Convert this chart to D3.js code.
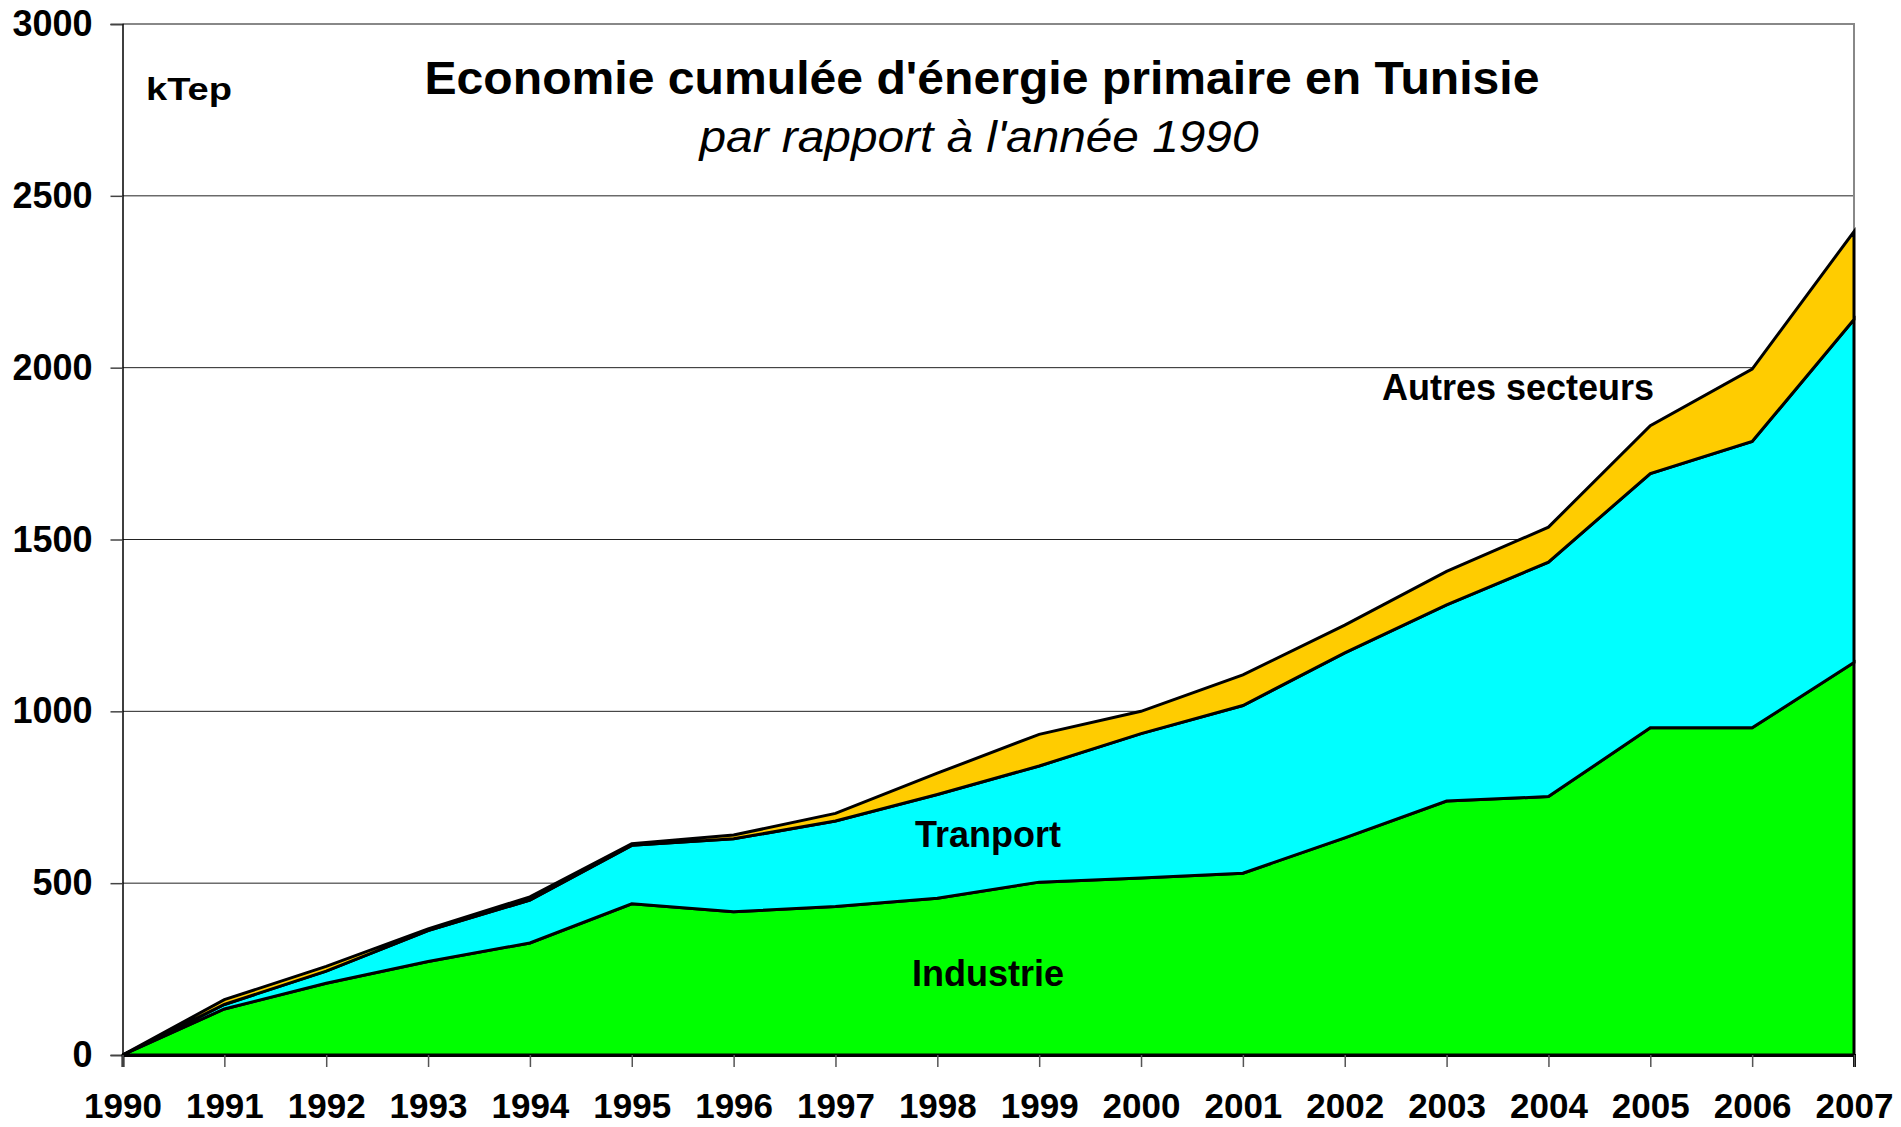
<!DOCTYPE html>
<html lang="fr">
<head>
  <meta charset="UTF-8">
  <title>Economie cumulée d'énergie primaire en Tunisie</title>
  <script src="https://d3js.org/d3.v7.min.js"></script>
  <style>
    body { margin: 0; background: #fff; font-family: "Liberation Sans", Arial, sans-serif; }
    svg { display: block; }
  </style>
</head>
<body>
  <svg id="chart" width="1901" height="1127"></svg>

<script>
  // Values (kTep, cumulated savings vs 1990)
  const years = [1990, 1991, 1992, 1993, 1994, 1995, 1996, 1997, 1998, 1999,
                 2000, 2001, 2002, 2003, 2004, 2005, 2006, 2007];
  const industrie = [0, 134, 209, 272, 326, 440, 417, 432, 456, 503,
                     515, 529, 632, 739, 752, 952, 952, 1142];
  const transport = [0, 13, 35, 90, 125, 170, 212, 249, 302, 338,
                     420, 488, 538, 571, 682, 740, 833, 998];
  const autres = [0, 14, 14, 5, 9, 5, 11, 22, 62, 92,
                  65, 89, 81, 97, 102, 139, 211, 256];
  const yTicks = [0, 500, 1000, 1500, 2000, 2500, 3000];
  const seriesKeys = ["industrie", "transport", "autres"];
  const seriesColors = ["#00ff00", "#00ffff", "#ffcc00"];

  const table = years.map((y, i) => ({
    year: y, industrie: industrie[i], transport: transport[i], autres: autres[i]
  }));

  const svg = d3.select("#chart");
  const margin = { top: 24, right: 47, bottom: 72, left: 122.5 };
  const width = +svg.attr("width");
  const height = +svg.attr("height");

  const x = d3.scaleLinear()
    .domain(d3.extent(years))
    .range([margin.left, width - margin.right]);

  const y = d3.scaleLinear()
    .domain([0, 3000])
    .range([height - margin.bottom, margin.top]);

  // gridlines (500..2500)
  svg.append("g")
    .selectAll("line")
    .data(yTicks.filter(d => d > 0 && d < 3000))
    .join("line")
    .attr("x1", margin.left)
    .attr("x2", width - margin.right)
    .attr("y1", d => y(d))
    .attr("y2", d => y(d))
    .attr("stroke", "#222")
    .attr("stroke-width", 1);

  // plot border top / right (gray)
  svg.append("path")
    .attr("d", `M${margin.left},${y(3000)}H${width - margin.right}V${y(0)}`)
    .attr("fill", "none")
    .attr("stroke", "#888")
    .attr("stroke-width", 2);

  // stacked areas
  const stack = d3.stack().keys(seriesKeys);
  const layers = stack(table);

  const area = d3.area()
    .x(d => x(d.data.year))
    .y0(d => y(d[0]))
    .y1(d => y(d[1]));

  svg.append("g")
    .selectAll("path")
    .data(layers)
    .join("path")
    .attr("d", area)
    .attr("fill", (d, i) => seriesColors[i])
    .attr("stroke", "#000")
    .attr("stroke-width", 3)
    .attr("stroke-linejoin", "miter");

  // Y axis
  const yAxis = svg.append("g")
    .attr("transform", `translate(${margin.left},0)`)
    .call(d3.axisLeft(y).tickValues(yTicks).tickSize(12).tickPadding(18).tickFormat(d3.format("d")));
  yAxis.select(".domain").attr("stroke", "#000").attr("stroke-width", 1.5);
  yAxis.selectAll(".tick line").attr("stroke", "#444").attr("stroke-width", 1.5);
  yAxis.selectAll(".tick text")
    .attr("fill", "#000")
    .style("font-size", "36px")
    .style("font-weight", "bold")
    .style("font-family", "'Liberation Sans', Arial, sans-serif");

  // X axis
  const xAxis = svg.append("g")
    .attr("transform", `translate(0,${y(0)})`)
    .call(d3.axisBottom(x).tickValues(years).tickSize(12).tickPadding(26).tickFormat(d3.format("d")));
  xAxis.select(".domain").attr("stroke", "#000").attr("stroke-width", 3);
  xAxis.selectAll(".tick line").attr("stroke", "#555").attr("stroke-width", 1.5);
  xAxis.selectAll(".tick text")
    .attr("fill", "#000")
    .style("font-size", "35px")
    .style("font-weight", "bold")
    .style("font-family", "'Liberation Sans', Arial, sans-serif");

  // Titles
  svg.append("text")
    .attr("x", 982)
    .attr("y", 94)
    .attr("text-anchor", "middle")
    .attr("textLength", 1115)
    .attr("lengthAdjust", "spacingAndGlyphs")
    .style("font-size", "46px")
    .style("font-weight", "bold")
    .text("Economie cumulée d'énergie primaire en Tunisie");

  svg.append("text")
    .attr("x", 979)
    .attr("y", 152)
    .attr("text-anchor", "middle")
    .attr("textLength", 559)
    .attr("lengthAdjust", "spacingAndGlyphs")
    .style("font-size", "44px")
    .style("font-style", "italic")
    .text("par rapport à l'année 1990");

  svg.append("text")
    .attr("x", 146)
    .attr("y", 100)
    .attr("textLength", 86)
    .attr("lengthAdjust", "spacingAndGlyphs")
    .style("font-size", "31px")
    .style("font-weight", "bold")
    .text("kTep");

  // Series labels
  const labels = [
    { text: "Autres secteurs", x: 1518, y: 400 },
    { text: "Tranport", x: 988, y: 847 },
    { text: "Industrie", x: 988, y: 986 }
  ];
  svg.append("g")
    .selectAll("text")
    .data(labels)
    .join("text")
    .attr("x", d => d.x)
    .attr("y", d => d.y)
    .attr("text-anchor", "middle")
    .style("font-size", "36px")
    .style("font-weight", "bold")
    .text(d => d.text);
</script>
</body>
</html>
